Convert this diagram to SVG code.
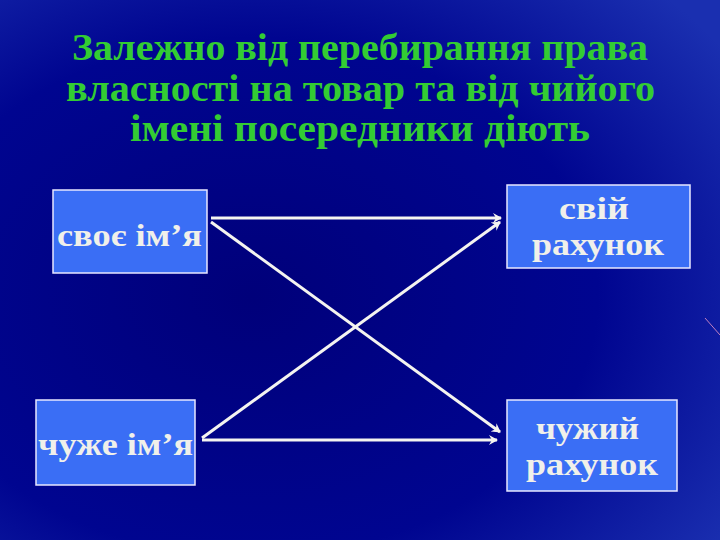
<svg xmlns="http://www.w3.org/2000/svg" width="720" height="540" viewBox="0 0 720 540">
<defs>
<radialGradient id="bg" cx="0.35" cy="0.55" r="0.8">
<stop offset="0" stop-color="#00007a"/>
<stop offset="0.6" stop-color="#000590"/>
<stop offset="1" stop-color="#1a2fb0"/>
</radialGradient>
<marker id="ar" markerWidth="10" markerHeight="10" refX="8" refY="5" orient="auto" markerUnits="userSpaceOnUse">
<path d="M0,0 L9,5 L0,10 L3,5 Z" fill="#f4f4f0"/>
</marker>
<style>
.box{fill:#3a6ef5;stroke:#e8e8ff;stroke-width:1.5}
.t{font-family:"Liberation Serif",serif;font-weight:bold;font-size:31px;fill:#f0f0ea}
.ti{font-family:"Liberation Serif",serif;font-weight:bold;font-size:38px;fill:#33cc33}
.c{stroke:#f4f4f0;stroke-width:3;fill:none;marker-end:url(#ar)}
</style>
</defs>
<rect width="720" height="540" fill="url(#bg)"/>
<line x1="705" y1="318" x2="720" y2="335" stroke="#c080c0" stroke-width="1"/>
<text class="ti" x="72" y="60" textLength="576" lengthAdjust="spacingAndGlyphs">Залежно від перебирання права</text>
<text class="ti" x="66" y="101" textLength="589" lengthAdjust="spacingAndGlyphs">власності на товар та від чийого</text>
<text class="ti" x="130" y="141" textLength="460" lengthAdjust="spacingAndGlyphs">імені посередники діють</text>
<g id="n1"><rect class="box" x="53" y="190" width="154" height="83"/><text class="t" x="57" y="246" textLength="145" lengthAdjust="spacingAndGlyphs">своє ім’я</text></g>
<g id="n2"><rect class="box" x="36" y="400" width="159" height="85"/><text class="t" x="38" y="455" textLength="155" lengthAdjust="spacingAndGlyphs">чуже ім’я</text></g>
<g id="n3"><rect class="box" x="507" y="185" width="183" height="83"/><text class="t" x="559" y="219" textLength="70" lengthAdjust="spacingAndGlyphs">свій</text><text class="t" x="532" y="255" textLength="132" lengthAdjust="spacingAndGlyphs">рахунок</text></g>
<g id="n4"><rect class="box" x="507" y="400" width="170" height="91"/><text class="t" x="536" y="439" textLength="103" lengthAdjust="spacingAndGlyphs">чужий</text><text class="t" x="526" y="475" textLength="132" lengthAdjust="spacingAndGlyphs">рахунок</text></g>
<g id="connectors">
<line class="c" x1="211" y1="218" x2="501" y2="218"/>
<line class="c" x1="211" y1="222" x2="500" y2="432"/>
<line class="c" x1="202" y1="438" x2="500" y2="222"/>
<line class="c" x1="202" y1="440" x2="497" y2="440"/>
</g>
</svg>
